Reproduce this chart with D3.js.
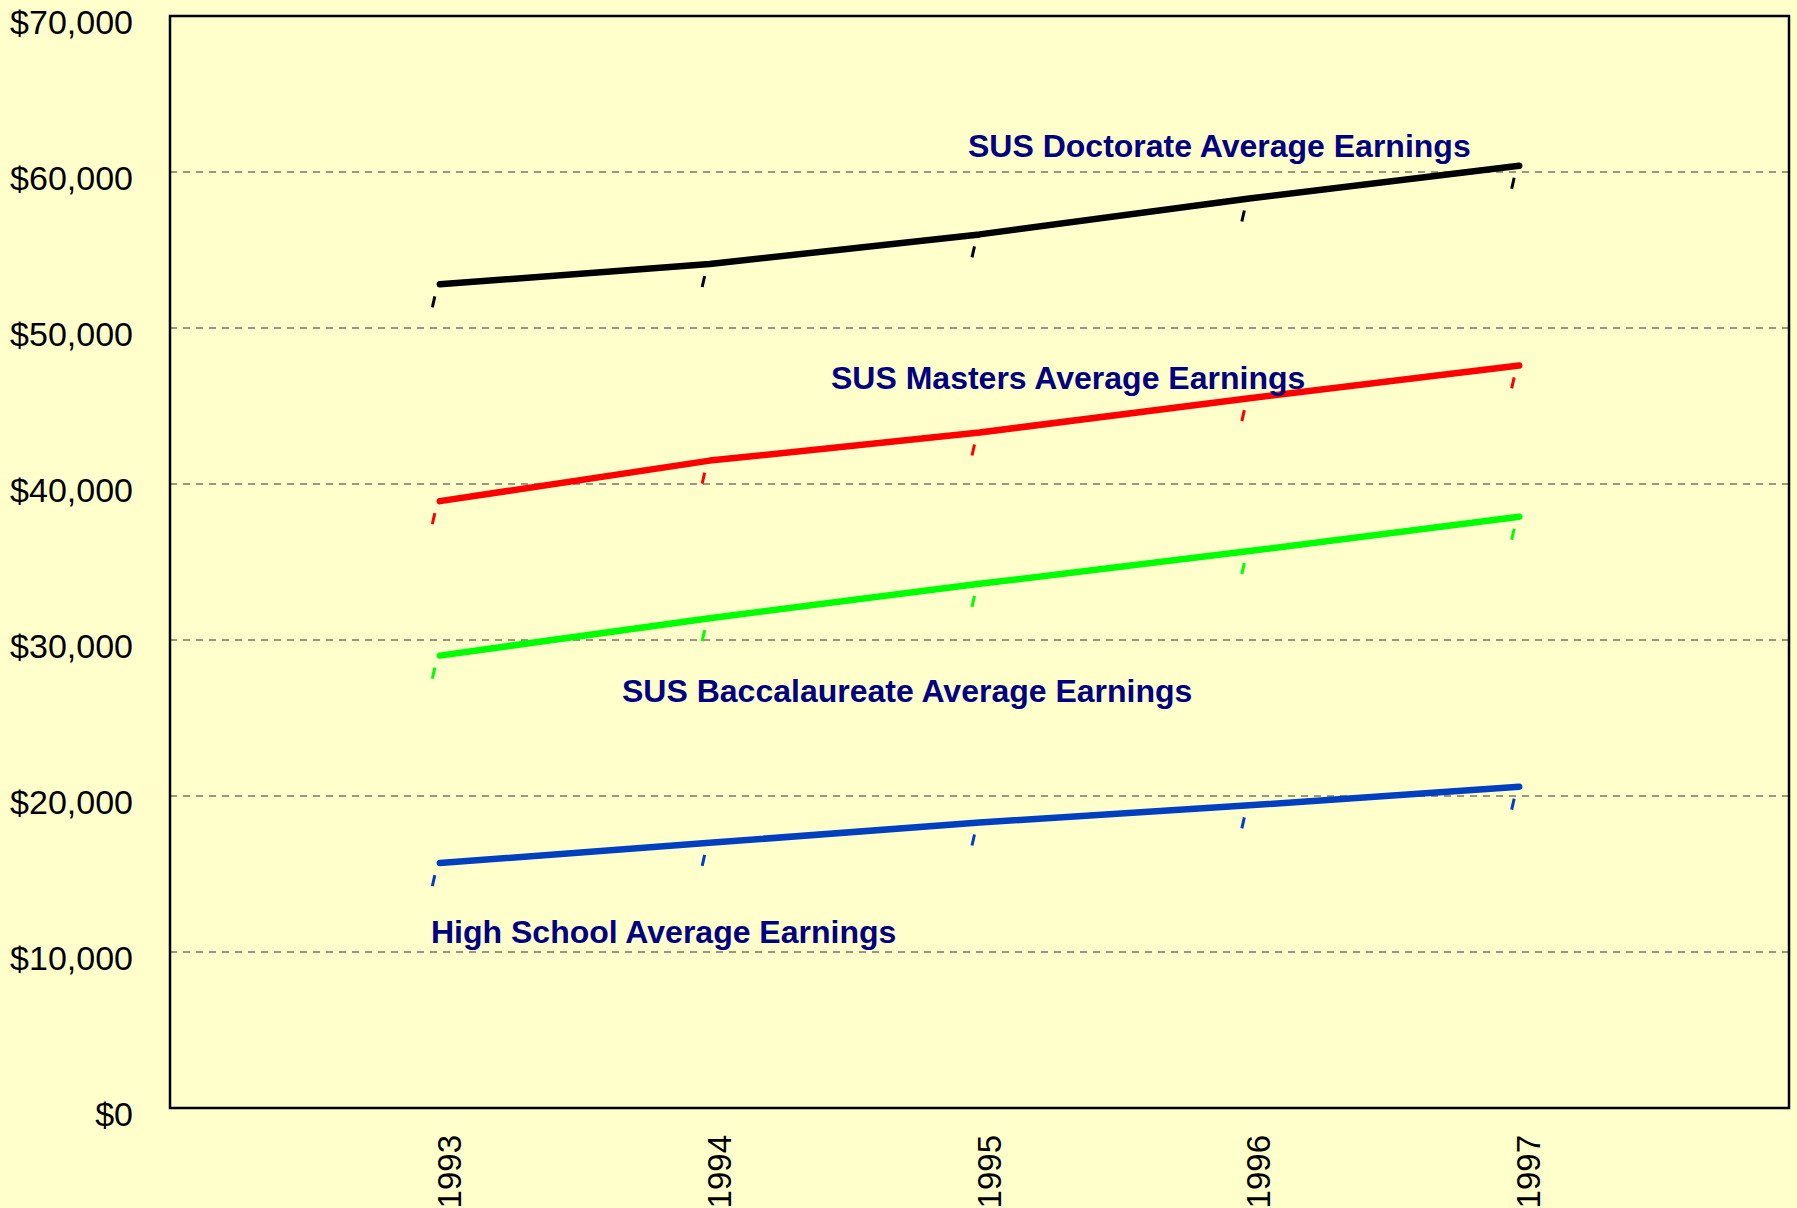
<!DOCTYPE html>
<html>
<head>
<meta charset="utf-8">
<script src="https://cdn.jsdelivr.net/npm/d3@7"></script>
<style>
  html, body { margin: 0; padding: 0; background: #ffffcc; }
  svg { display: block; }
</style>
</head>
<body>
<script>
// ---- data ----
const years = [1993, 1994, 1995, 1996, 1997];
const doctorate = [52800, 54100, 56000, 58300, 60400];
const masters = [38900, 41500, 43300, 45500, 47600];
const baccalaureate = [29000, 31400, 33600, 35700, 37900];
const highSchool = [15700, 17000, 18300, 19400, 20600];
const seriesNames = ["SUS Doctorate Average Earnings", "SUS Masters Average Earnings",
  "SUS Baccalaureate Average Earnings", "High School Average Earnings"];
const seriesColors = ["#000000", "#ff0000", "#00ff00", "#0040c0"];
const yTicks = [0, 10000, 20000, 30000, 40000, 50000, 60000, 70000];
const yTickLabels = ["$0", "$10,000", "$20,000", "$30,000", "$40,000", "$50,000", "$60,000", "$70,000"];

(function () {
const W = 1797, H = 1208;
const mLeft = 170, mRight = 1789, mTop = 16, mBottom = 1108;

const svg = d3.select("body").append("svg").attr("width", W).attr("height", H);
svg.append("rect").attr("width", W).attr("height", H).attr("fill", "#ffffcc");

const x = d3.scaleLinear().domain([1992, 1998]).range([mLeft, mRight]);
const y = d3.scaleLinear().domain([0, 70000]).range([mBottom, mTop]);

// gridlines
svg.append("g").selectAll("line")
  .data(yTicks.filter(v => v > 0 && v < 70000))
  .join("line")
  .attr("x1", mLeft).attr("x2", mRight)
  .attr("y1", d => y(d)).attr("y2", d => y(d))
  .attr("stroke", "#333").attr("stroke-width", 1)
  .attr("stroke-dasharray", "7,6");

// y axis labels
const yAxis = d3.axisLeft(y).tickValues(yTicks)
  .tickFormat((d, i) => yTickLabels[i]).tickSize(0).tickPadding(37);
const ya = svg.append("g").attr("transform", `translate(${mLeft},0)`).call(yAxis);
ya.select(".domain").remove();
ya.selectAll("text")
  .attr("font-family", "Liberation Sans, Arial, sans-serif")
  .attr("font-size", 34).attr("fill", "#000").attr("dy", "0.5em");

// x axis labels
const xAxis = d3.axisBottom(x).tickValues(years).tickFormat(d3.format("d")).tickSize(0);
const xa = svg.append("g").attr("transform", `translate(0,${mBottom})`).call(xAxis);
xa.select(".domain").remove();
xa.selectAll("text")
  .attr("font-family", "Liberation Sans, Arial, sans-serif")
  .attr("font-size", 33).attr("fill", "#000")
  .attr("text-anchor", "end")
  .attr("transform", "rotate(-90)")
  .attr("x", -27).attr("y", 9).attr("dy", "0.35em");

// plot frame
svg.append("rect")
  .attr("x", mLeft).attr("y", mTop)
  .attr("width", mRight - mLeft).attr("height", mBottom - mTop)
  .attr("fill", "none").attr("stroke", "#000").attr("stroke-width", 2.5);

const allSeries = [doctorate, masters, baccalaureate, highSchool];
const line = d3.line().x((d, i) => x(years[i])).y(d => y(d));

allSeries.forEach((vals, si) => {
  const col = seriesColors[si];
  svg.append("g").selectAll("line")
    .data(vals)
    .join("line")
    .attr("x1", (d, i) => x(years[i]) - 5).attr("y1", d => y(d) + 12)
    .attr("x2", (d, i) => x(years[i]) - 7.5).attr("y2", d => y(d) + 23)
    .attr("stroke", col).attr("stroke-width", 3);
  svg.append("path")
    .datum(vals)
    .attr("d", line)
    .attr("fill", "none")
    .attr("stroke", col)
    .attr("stroke-width", 6.5)
    .attr("stroke-linecap", "round")
    .attr("stroke-linejoin", "round");
});

// series annotations
const labelPos = [[968, 157], [831, 389], [622, 702], [431, 943]];
svg.append("g").selectAll("text")
  .data(seriesNames)
  .join("text")
  .attr("x", (d, i) => labelPos[i][0])
  .attr("y", (d, i) => labelPos[i][1])
  .attr("font-family", "Liberation Sans, Arial, sans-serif")
  .attr("font-weight", "bold")
  .attr("font-size", 32)
  .attr("fill", "#000080")
  .text(d => d);
})();
</script>
</body>
</html>
